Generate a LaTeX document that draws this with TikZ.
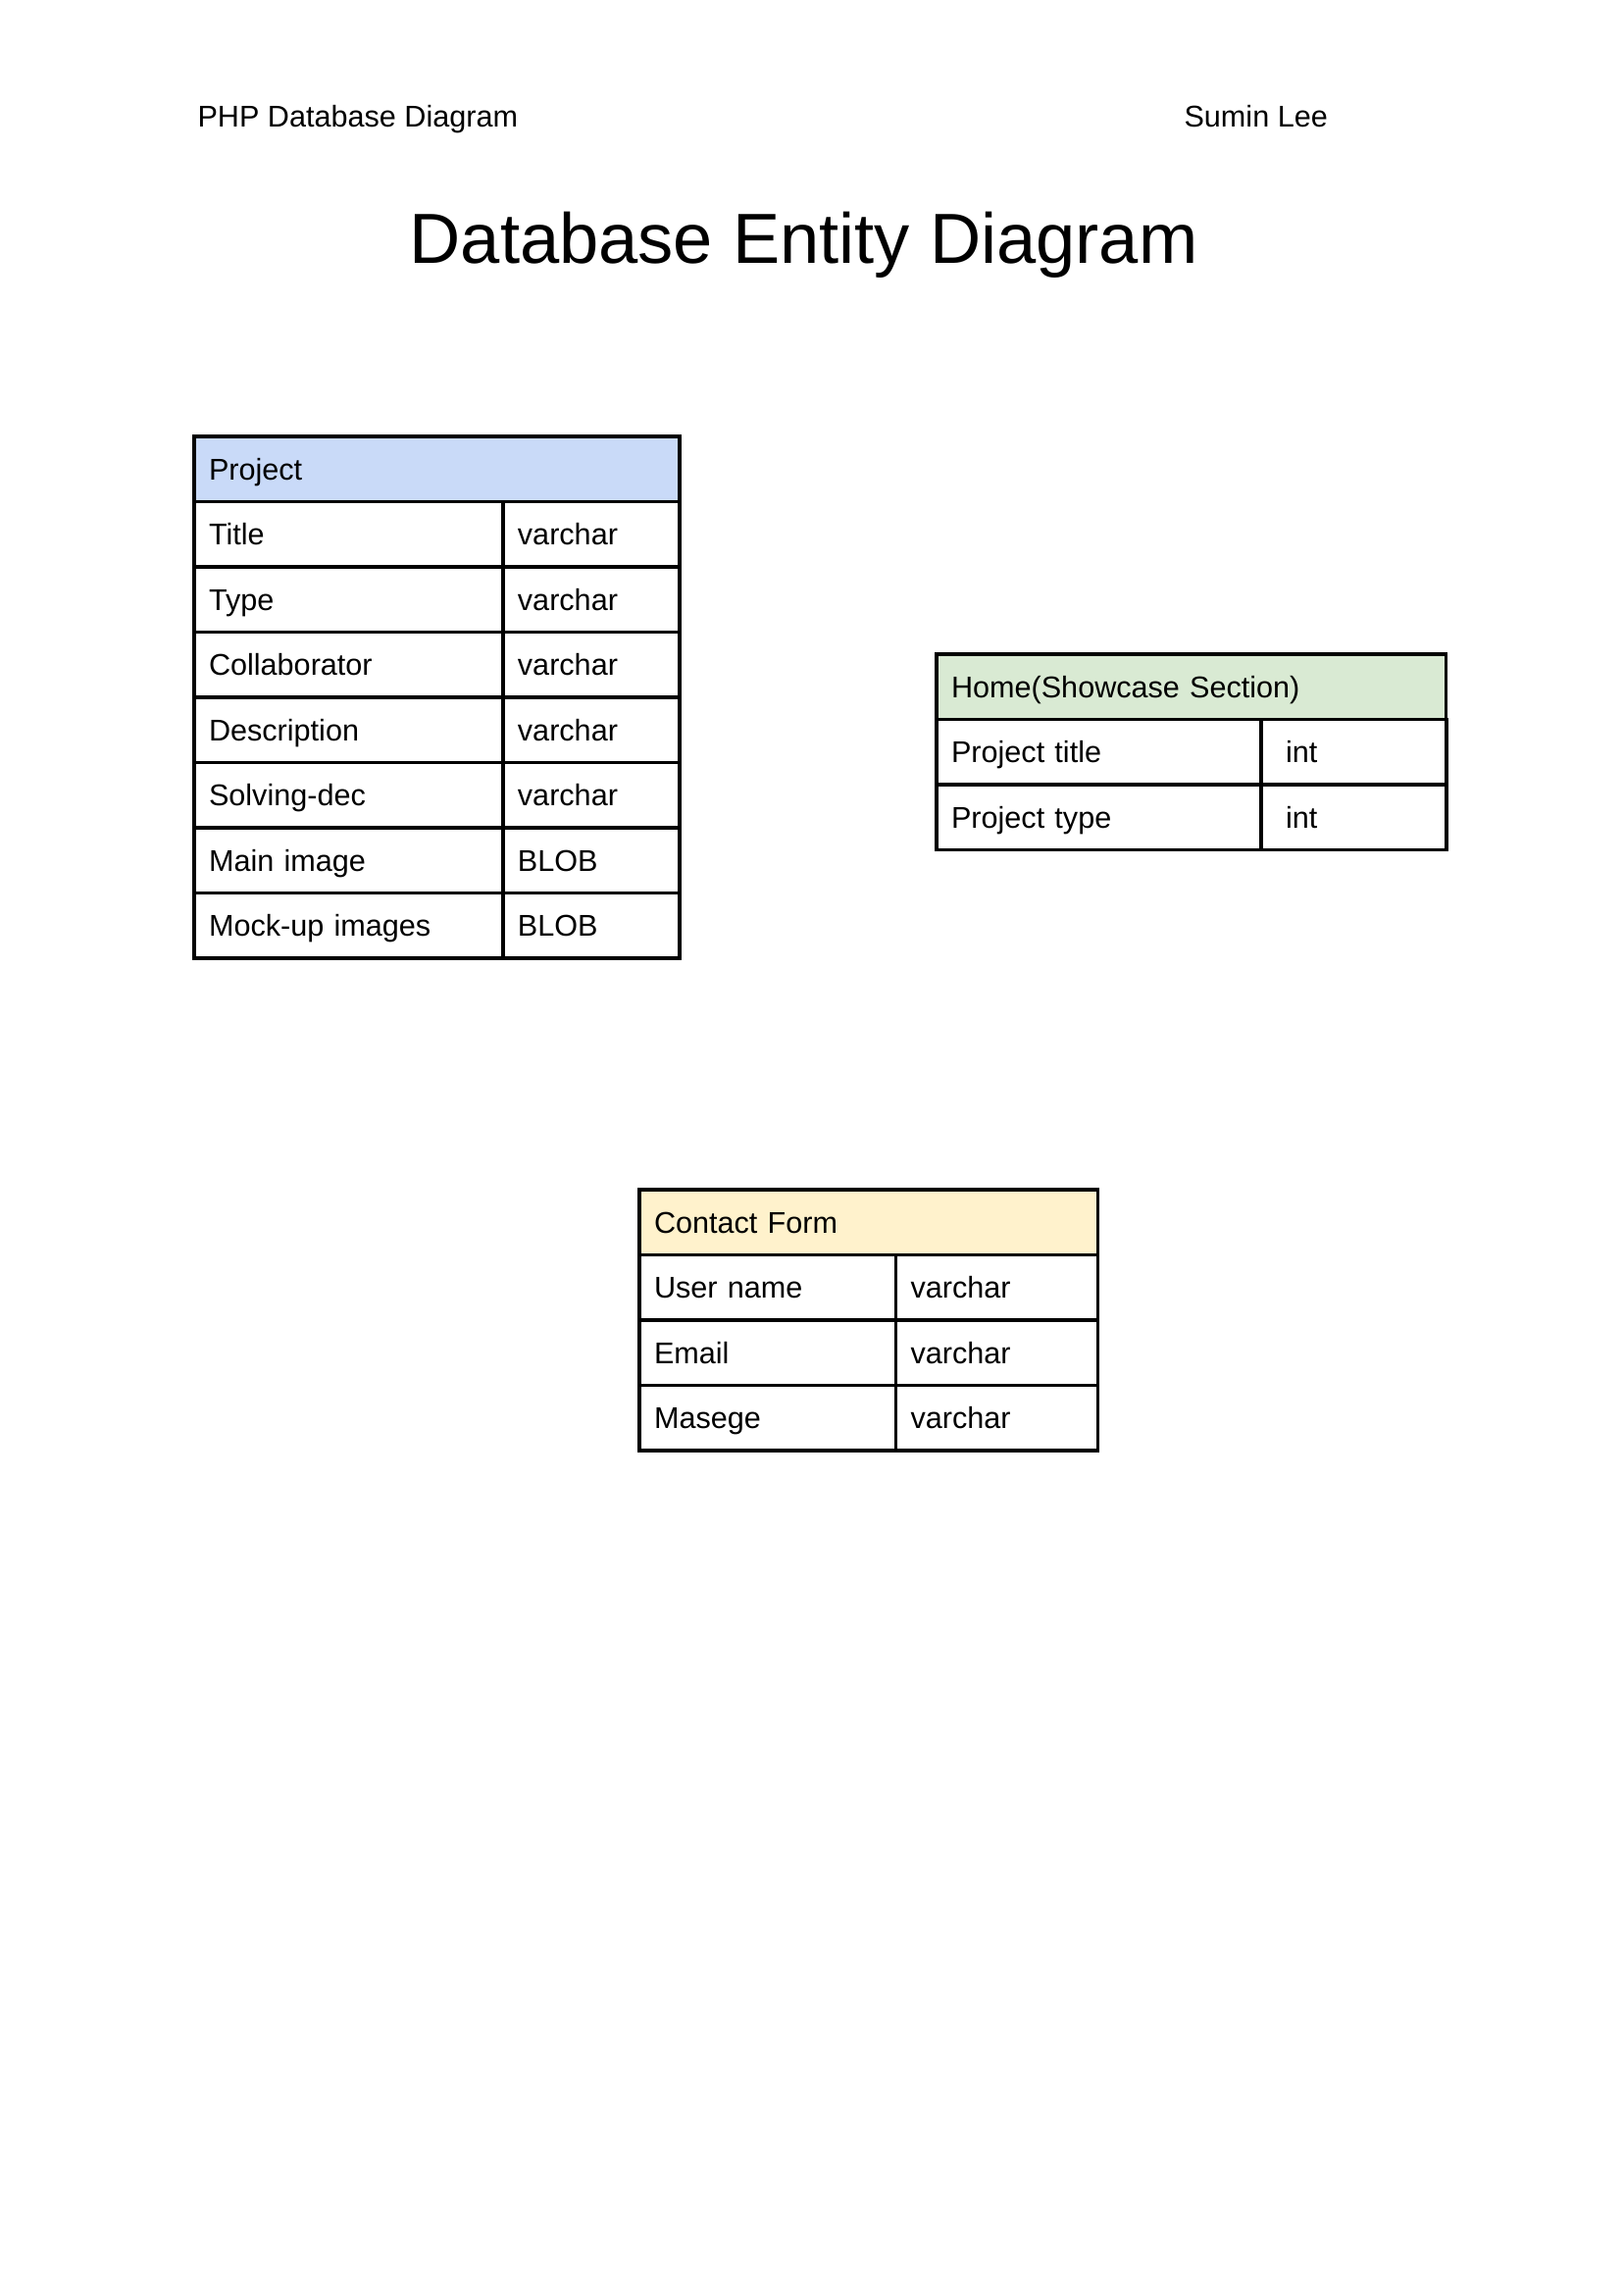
\documentclass[tikz,border=0pt]{standalone}
\usepackage{fontspec}
\setmainfont{Liberation Sans}
\definecolor{projblue}{HTML}{C9DAF8}
\definecolor{homegreen}{HTML}{D9EAD3}
\definecolor{formyellow}{HTML}{FFF2CC}
\tikzset{
    cell/.style={draw, line width=1.3pt, outer sep=0pt, anchor=north west,
        inner xsep=5.4pt, inner ysep=0pt, minimum height=23.9pt, align=left,
        text height=7.9pt, text depth=0pt, font=\fontsize{11}{13}\selectfont},
    pagetext/.style={anchor=base west, inner sep=0pt, font=\fontsize{11}{13}\selectfont},
}
\begin{document}
\begin{tikzpicture}[x=0.35947pt,y=-0.35947pt]
    \useasboundingbox (0,0) rectangle (1656,2339);
    % page heading
    \node[pagetext] (doc) at (201,130) {PHP Database Diagram};
    \node[pagetext] (author) at (1207,130) {Sumin Lee};
    \node[pagetext, font=\fontsize{26}{30}\selectfont] (title) at (417,268) {Database Entity Diagram};

    % Project table
    \node[cell, fill=projblue, text width=167.1pt] (proj) at (198,445) {Project};
    \node[cell, text width=102.4pt] (proj-title) at (proj.south west) {Title};
    \node[cell, text width=53.9pt] (proj-title-t) at (proj-title.north east) {varchar};
    \node[cell, text width=102.4pt] (proj-type) at (proj-title.south west) {Type};
    \node[cell, text width=53.9pt] (proj-type-t) at (proj-type.north east) {varchar};
    \node[cell, text width=102.4pt] (proj-collab) at (proj-type.south west) {Collaborator};
    \node[cell, text width=53.9pt] (proj-collab-t) at (proj-collab.north east) {varchar};
    \node[cell, text width=102.4pt] (proj-desc) at (proj-collab.south west) {Description};
    \node[cell, text width=53.9pt] (proj-desc-t) at (proj-desc.north east) {varchar};
    \node[cell, text width=102.4pt] (proj-solv) at (proj-desc.south west) {Solving-dec};
    \node[cell, text width=53.9pt] (proj-solv-t) at (proj-solv.north east) {varchar};
    \node[cell, text width=102.4pt] (proj-main) at (proj-solv.south west) {Main image};
    \node[cell, text width=53.9pt] (proj-main-t) at (proj-main.north east) {BLOB};
    \node[cell, text width=102.4pt] (proj-mock) at (proj-main.south west) {Mock-up images};
    \node[cell, text width=53.9pt] (proj-mock-t) at (proj-mock.north east) {BLOB};

    % Home table
    \node[cell, fill=homegreen, text width=176.0pt] (home) at (955,667) {Home(Showcase Section)};
    \node[cell, text width=108.1pt] (home-title) at (home.south west) {Project title};
    \node[cell, text width=57.2pt] (home-title-t) at (home-title.north east) {\ int};
    \node[cell, text width=108.1pt] (home-type) at (home-title.south west) {Project type};
    \node[cell, text width=57.2pt] (home-type-t) at (home-type.north east) {\ int};

    % Contact table
    \node[cell, fill=formyellow, text width=157.2pt] (form) at (652,1213) {Contact Form};
    \node[cell, text width=83.2pt] (form-user) at (form.south west) {User name};
    \node[cell, text width=63.3pt] (form-user-t) at (form-user.north east) {varchar};
    \node[cell, text width=83.2pt] (form-mail) at (form-user.south west) {Email};
    \node[cell, text width=63.3pt] (form-mail-t) at (form-mail.north east) {varchar};
    \node[cell, text width=83.2pt] (form-msg) at (form-mail.south west) {Masege};
    \node[cell, text width=63.3pt] (form-msg-t) at (form-msg.north east) {varchar};
\end{tikzpicture}
\end{document}
